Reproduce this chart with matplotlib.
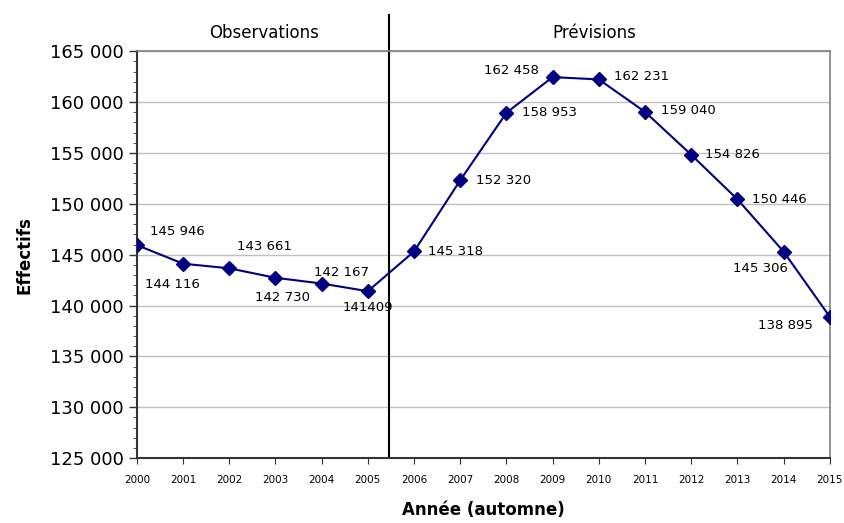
import matplotlib.pyplot as plt
from matplotlib.ticker import FuncFormatter, MultipleLocator

# data
years = [2000, 2001, 2002, 2003, 2004, 2005, 2006, 2007, 2008, 2009, 2010, 2011, 2012, 2013, 2014, 2015]
effectifs = [145946, 144116, 143661, 142730, 142167, 141409, 145318, 152320, 158953,
             162458, 162231, 159040, 154826, 150446, 145306, 138895]
labels = ['145 946', '144 116', '143 661', '142 730', '142 167', '141409', '145 318', '152 320',
          '158 953', '162 458', '162 231', '159 040', '154 826', '150 446', '145 306', '138 895']
# label offsets (points) relative to each marker
offsets = [(29, 10), (-8, -15), (25, 16), (5, -14), (14, 8), (0, -12), (30, 0), (31, 0),
           (31, 0), (-30, 5), (31, 2), (31, 1), (30, 0), (30, 0), (-17, -12), (-32, -6)]

fig = plt.figure(figsize=(8.45, 5.23), dpi=100)
ax = fig.add_axes([0.162, 0.124, 0.820, 0.778])

ax.plot(years, effectifs, color='#000080', lw=1.5, marker='D', ms=7, zorder=3)

for x, y, lab, off in zip(years, effectifs, labels, offsets):
    ax.annotate(lab, (x, y), xytext=off, textcoords='offset points',
                ha='center', va='center', fontsize=9.5, color='black')

ax.set_xlim(2000, 2015)
ax.set_ylim(125000, 165000)
ax.set_xticks(years)
ax.set_xticklabels([str(y) for y in years], fontsize=7.5)
ax.yaxis.set_major_locator(MultipleLocator(5000))
ax.yaxis.set_minor_locator(MultipleLocator(1000))
ax.yaxis.set_major_formatter(FuncFormatter(lambda v, p: f'{int(v):,}'.replace(',', ' ')))
ax.tick_params(axis='y', labelsize=13, length=6, width=1, color='#333333')
ax.tick_params(axis='y', which='minor', length=3, color='#333333')
ax.tick_params(axis='x', length=4, color='#333333', pad=8)

ax.grid(axis='y', color='#c0c0c0', lw=1)
ax.set_axisbelow(True)
for s in ['top', 'right']:
    ax.spines[s].set_color('#808080')
    ax.spines[s].set_linewidth(1.2)
for s in ['left', 'bottom']:
    ax.spines[s].set_color('#333333')
    ax.spines[s].set_linewidth(1.5)

# separation observations / previsions
ax.axvline(2005.45, ymin=0, ymax=1.088, color='black', lw=1.5, clip_on=False)
ax.text(2002.75, 1.044, 'Observations', transform=ax.get_xaxis_transform(),
        ha='center', va='center', fontsize=12)
ax.text(2009.9, 1.044, 'Prévisions', transform=ax.get_xaxis_transform(),
        ha='center', va='center', fontsize=12)

ax.set_xlabel('Année (automne)', fontsize=12, fontweight='bold', labelpad=12)
ax.set_ylabel('Effectifs', fontsize=12, fontweight='bold', labelpad=12)

fig.savefig('out.png', dpi=100)
